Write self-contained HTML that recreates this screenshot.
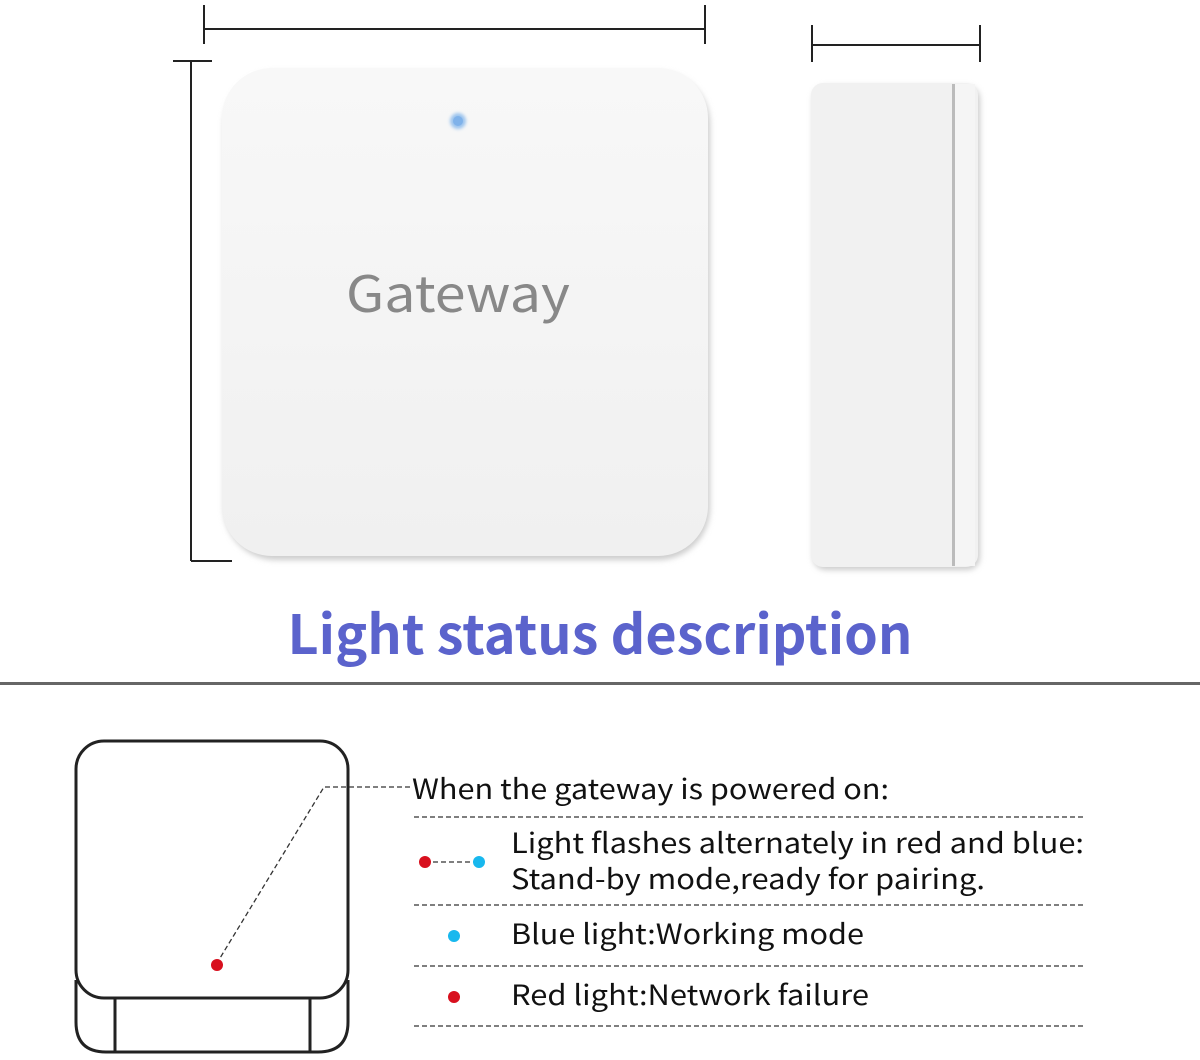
<!DOCTYPE html>
<html><head><meta charset="utf-8"><style>
html,body{margin:0;padding:0;background:#fff;}
svg{display:block;}
text{font-family:"Noto Sans CJK SC","Liberation Sans",sans-serif;}
</style></head><body>
<svg width="1200" height="1060" viewBox="0 0 1200 1060" xmlns="http://www.w3.org/2000/svg">
<defs>
<filter id="sh" x="-10%" y="-10%" width="120%" height="120%"><feGaussianBlur stdDeviation="3"/></filter>
<filter id="gl" x="-100%" y="-100%" width="300%" height="300%"><feGaussianBlur stdDeviation="1.5"/></filter>
<linearGradient id="gw" x1="0" y1="0" x2="0" y2="1"><stop offset="0" stop-color="#f8f8f8"/><stop offset="1" stop-color="#f0f0f0"/></linearGradient>
</defs>
<!-- dimension lines -->
<g stroke="#222" stroke-width="2" fill="none">
<line x1="204" y1="29" x2="705" y2="29"/>
<line x1="204" y1="5" x2="204" y2="44"/>
<line x1="705" y1="5" x2="705" y2="44"/>
<line x1="191" y1="61" x2="191" y2="561"/>
<line x1="173" y1="61" x2="212" y2="61"/>
<line x1="191" y1="561" x2="232" y2="561"/>
<line x1="812" y1="45" x2="980" y2="45"/>
<line x1="812" y1="25" x2="812" y2="62"/>
<line x1="980" y1="25" x2="980" y2="62"/>
</g>
<!-- gateway -->
<rect x="224" y="72" width="486" height="488" rx="52" fill="#ccc" filter="url(#sh)"/>
<rect x="222" y="68" width="486" height="488" rx="50" fill="url(#gw)"/>
<circle cx="458" cy="121" r="8" fill="#9cc4ee" filter="url(#gl)"/>
<circle cx="458" cy="121" r="5" fill="#7fb2ea"/>
<text x="458" y="312" font-size="50" fill="#888" text-anchor="middle" textLength="224" lengthAdjust="spacingAndGlyphs">Gateway</text>
<!-- side -->
<rect x="813" y="86" width="167" height="484" rx="13" fill="#ccc" filter="url(#sh)"/>
<rect x="811" y="83" width="167" height="484" rx="12" fill="#f1f1f1"/>
<rect x="952" y="84" width="3" height="482" fill="#bbb"/>
<rect x="955" y="84" width="20" height="482" fill="#f5f5f5"/>
<!-- title -->
<text x="600" y="654" font-size="54" font-weight="bold" fill="#5b63cc" text-anchor="middle" textLength="625" lengthAdjust="spacingAndGlyphs">Light status description</text>
<rect x="0" y="682" width="1200" height="3" fill="#666"/>
<!-- bottom device -->
<g stroke="#222" stroke-width="3" fill="none">
<path d="M76 980 V1022 Q76 1052 106 1052 H318 Q348 1052 348 1022 V980"/>
<line x1="115" y1="998" x2="115" y2="1052"/>
<line x1="310" y1="998" x2="310" y2="1052"/>
<rect x="76" y="741" width="272" height="257" rx="28" fill="#fff"/>
</g>
<g stroke="#333" stroke-width="1.3" stroke-dasharray="5,3" fill="none">
<polyline points="410,787 324,787 217,963"/>
<line x1="414" y1="817" x2="1085" y2="817"/>
<line x1="414" y1="905" x2="1085" y2="905"/>
<line x1="414" y1="966" x2="1085" y2="966"/>
<line x1="414" y1="1026" x2="1085" y2="1026"/>
<line x1="425" y1="862" x2="479" y2="862"/>
</g>
<circle cx="217" cy="965" r="6" fill="#d8101e"/>
<circle cx="425" cy="862" r="6" fill="#d8101e"/>
<circle cx="479" cy="862" r="6" fill="#18b8ee"/>
<circle cx="454" cy="936" r="6" fill="#18b8ee"/>
<circle cx="454" cy="997" r="6" fill="#d8101e"/>
<g font-size="28" fill="#111">
<text x="412" y="799" textLength="477" lengthAdjust="spacingAndGlyphs">When the gateway is powered on:</text>
<text x="511" y="853" textLength="573" lengthAdjust="spacingAndGlyphs">Light flashes alternately in red and blue:</text>
<text x="511" y="889" textLength="474" lengthAdjust="spacingAndGlyphs">Stand-by mode,ready for pairing.</text>
<text x="511" y="944" textLength="353" lengthAdjust="spacingAndGlyphs">Blue light:Working mode</text>
<text x="511" y="1005" textLength="358" lengthAdjust="spacingAndGlyphs">Red light:Network failure</text>
</g>
</svg>
</body></html>
